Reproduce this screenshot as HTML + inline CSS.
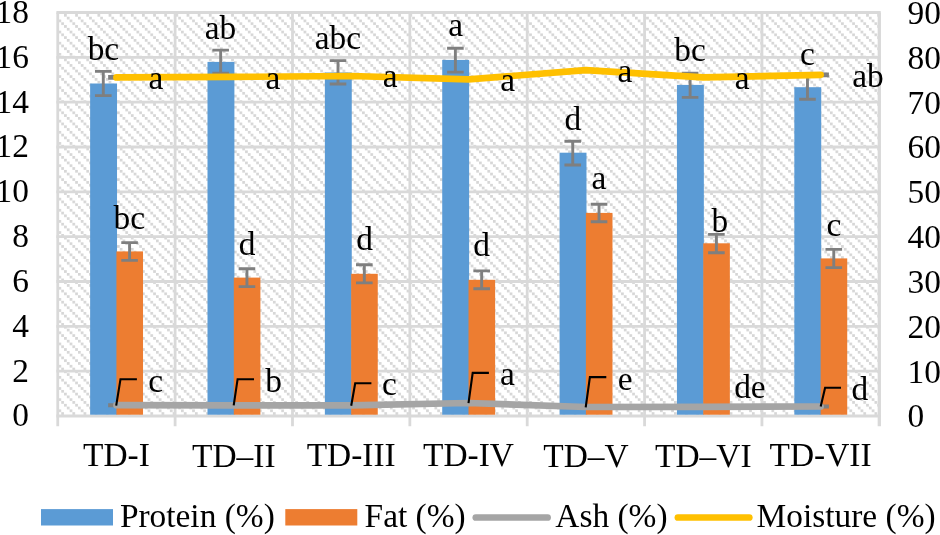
<!DOCTYPE html>
<html><head><meta charset="utf-8"><title>Chart</title>
<style>html,body{margin:0;padding:0;background:#fff;}body{width:940px;height:535px;overflow:hidden;}
svg{display:block;will-change:transform;transform:translateZ(0);}text{font-family:"Liberation Serif",serif;font-size:33.4px;fill:#000;}</style>
</head><body>
<svg width="940" height="535" viewBox="0 0 940 535">
<defs><pattern id="h" width="11.14" height="11.14" patternUnits="userSpaceOnUse" patternTransform="translate(64.05 13.95)">
<rect x="0.00" y="0.00" width="2.7" height="2.7" fill="#D6D6D6"/>
<rect x="2.79" y="2.79" width="2.7" height="2.7" fill="#D6D6D6"/>
<rect x="5.57" y="5.57" width="2.7" height="2.7" fill="#D6D6D6"/>
<rect x="8.36" y="8.36" width="2.7" height="2.7" fill="#D6D6D6"/>
</pattern></defs>
<rect x="0" y="0" width="940" height="535" fill="#fff"/>
<rect x="57.8" y="12.5" width="821.5" height="403.5" fill="url(#h)"/>
<line x1="56.4" y1="12.50" x2="880.7" y2="12.50" stroke="#D9D9D9" stroke-width="2.8"/>
<line x1="56.4" y1="57.33" x2="880.7" y2="57.33" stroke="#D9D9D9" stroke-width="2.8"/>
<line x1="56.4" y1="102.17" x2="880.7" y2="102.17" stroke="#D9D9D9" stroke-width="2.8"/>
<line x1="56.4" y1="147.00" x2="880.7" y2="147.00" stroke="#D9D9D9" stroke-width="2.8"/>
<line x1="56.4" y1="191.83" x2="880.7" y2="191.83" stroke="#D9D9D9" stroke-width="2.8"/>
<line x1="56.4" y1="236.67" x2="880.7" y2="236.67" stroke="#D9D9D9" stroke-width="2.8"/>
<line x1="56.4" y1="281.50" x2="880.7" y2="281.50" stroke="#D9D9D9" stroke-width="2.8"/>
<line x1="56.4" y1="326.33" x2="880.7" y2="326.33" stroke="#D9D9D9" stroke-width="2.8"/>
<line x1="56.4" y1="371.17" x2="880.7" y2="371.17" stroke="#D9D9D9" stroke-width="2.8"/>
<line x1="56.4" y1="416.00" x2="880.7" y2="416.00" stroke="#D9D9D9" stroke-width="2.8"/>
<line x1="57.75" y1="12.5" x2="57.75" y2="426.2" stroke="#D9D9D9" stroke-width="2.8"/>
<line x1="175.11" y1="12.5" x2="175.11" y2="426.2" stroke="#D9D9D9" stroke-width="2.8"/>
<line x1="292.48" y1="12.5" x2="292.48" y2="426.2" stroke="#D9D9D9" stroke-width="2.8"/>
<line x1="409.84" y1="12.5" x2="409.84" y2="426.2" stroke="#D9D9D9" stroke-width="2.8"/>
<line x1="527.21" y1="12.5" x2="527.21" y2="426.2" stroke="#D9D9D9" stroke-width="2.8"/>
<line x1="644.57" y1="12.5" x2="644.57" y2="426.2" stroke="#D9D9D9" stroke-width="2.8"/>
<line x1="761.94" y1="12.5" x2="761.94" y2="426.2" stroke="#D9D9D9" stroke-width="2.8"/>
<line x1="879.30" y1="12.5" x2="879.30" y2="426.2" stroke="#D9D9D9" stroke-width="3.3"/>
<rect x="90.13" y="83.5" width="26.9" height="331.2" fill="#5B9BD5"/>
<rect x="116.43" y="251.4" width="26.6" height="163.3" fill="#ED7D31"/>
<rect x="207.50" y="61.9" width="26.9" height="352.8" fill="#5B9BD5"/>
<rect x="233.80" y="277.6" width="26.6" height="137.1" fill="#ED7D31"/>
<rect x="324.86" y="72.5" width="26.9" height="342.2" fill="#5B9BD5"/>
<rect x="351.16" y="273.8" width="26.6" height="140.9" fill="#ED7D31"/>
<rect x="442.22" y="59.9" width="26.9" height="354.8" fill="#5B9BD5"/>
<rect x="468.52" y="279.8" width="26.6" height="134.9" fill="#ED7D31"/>
<rect x="559.59" y="152.7" width="26.9" height="262.0" fill="#5B9BD5"/>
<rect x="585.89" y="212.9" width="26.6" height="201.8" fill="#ED7D31"/>
<rect x="676.95" y="84.9" width="26.9" height="329.8" fill="#5B9BD5"/>
<rect x="703.25" y="243.3" width="26.6" height="171.4" fill="#ED7D31"/>
<rect x="794.32" y="87.2" width="26.9" height="327.5" fill="#5B9BD5"/>
<rect x="820.62" y="258.4" width="26.6" height="156.3" fill="#ED7D31"/>
<path d="M94.98 71.4H111.58M94.98 95.6H111.58M103.28 71.4V95.6" stroke="#7F7F7F" stroke-width="2.9" fill="none"/>
<path d="M121.28 242.6H137.88M121.28 260.4H137.88M129.58 242.6V260.4" stroke="#7F7F7F" stroke-width="2.9" fill="none"/>
<path d="M108.13 404.6H124.73M108.13 405.8H124.73M116.43 404.6V405.8" stroke="#7F7F7F" stroke-width="2.9" fill="none"/>
<path d="M108.13 76.5H124.73M108.13 78.3H124.73M116.43 76.5V78.3" stroke="#7F7F7F" stroke-width="2.9" fill="none"/>
<path d="M212.35 50.1H228.95M212.35 73.3H228.95M220.65 50.1V73.3" stroke="#7F7F7F" stroke-width="2.9" fill="none"/>
<path d="M238.65 268.7H255.25M238.65 286.6H255.25M246.95 268.7V286.6" stroke="#7F7F7F" stroke-width="2.9" fill="none"/>
<path d="M225.50 404.8H242.10M225.50 406.0H242.10M233.80 404.8V406.0" stroke="#7F7F7F" stroke-width="2.9" fill="none"/>
<path d="M225.50 76.0H242.10M225.50 77.8H242.10M233.80 76.0V77.8" stroke="#7F7F7F" stroke-width="2.9" fill="none"/>
<path d="M329.71 60.6H346.31M329.71 84.0H346.31M338.01 60.6V84.0" stroke="#7F7F7F" stroke-width="2.9" fill="none"/>
<path d="M356.01 264.8H372.61M356.01 282.9H372.61M364.31 264.8V282.9" stroke="#7F7F7F" stroke-width="2.9" fill="none"/>
<path d="M342.86 404.8H359.46M342.86 406.0H359.46M351.16 404.8V406.0" stroke="#7F7F7F" stroke-width="2.9" fill="none"/>
<path d="M342.86 75.1H359.46M342.86 76.9H359.46M351.16 75.1V76.9" stroke="#7F7F7F" stroke-width="2.9" fill="none"/>
<path d="M447.07 48.3H463.68M447.07 72.1H463.68M455.38 48.3V72.1" stroke="#7F7F7F" stroke-width="2.9" fill="none"/>
<path d="M473.37 270.9H489.97M473.37 288.8H489.97M481.67 270.9V288.8" stroke="#7F7F7F" stroke-width="2.9" fill="none"/>
<path d="M460.22 402.4H476.82M460.22 403.6H476.82M468.52 402.4V403.6" stroke="#7F7F7F" stroke-width="2.9" fill="none"/>
<path d="M460.22 78.4H476.82M460.22 80.2H476.82M468.52 78.4V80.2" stroke="#7F7F7F" stroke-width="2.9" fill="none"/>
<path d="M564.44 141.2H581.04M564.44 165.0H581.04M572.74 141.2V165.0" stroke="#7F7F7F" stroke-width="2.9" fill="none"/>
<path d="M590.74 204.2H607.34M590.74 221.8H607.34M599.04 204.2V221.8" stroke="#7F7F7F" stroke-width="2.9" fill="none"/>
<path d="M577.59 406.4H594.19M577.59 407.6H594.19M585.89 406.4V407.6" stroke="#7F7F7F" stroke-width="2.9" fill="none"/>
<path d="M577.59 69.3H594.19M577.59 71.1H594.19M585.89 69.3V71.1" stroke="#7F7F7F" stroke-width="2.9" fill="none"/>
<path d="M681.80 73.1H698.40M681.80 97.4H698.40M690.10 73.1V97.4" stroke="#7F7F7F" stroke-width="2.9" fill="none"/>
<path d="M708.10 234.4H724.70M708.10 252.8H724.70M716.40 234.4V252.8" stroke="#7F7F7F" stroke-width="2.9" fill="none"/>
<path d="M694.95 406.2H711.55M694.95 407.4H711.55M703.25 406.2V407.4" stroke="#7F7F7F" stroke-width="2.9" fill="none"/>
<path d="M694.95 76.5H711.55M694.95 78.3H711.55M703.25 76.5V78.3" stroke="#7F7F7F" stroke-width="2.9" fill="none"/>
<path d="M799.17 75.1H815.77M799.17 99.3H815.77M807.47 75.1V99.3" stroke="#7F7F7F" stroke-width="2.9" fill="none"/>
<path d="M825.47 249.4H842.07M825.47 267.6H842.07M833.77 249.4V267.6" stroke="#7F7F7F" stroke-width="2.9" fill="none"/>
<path d="M812.32 405.9H828.92M812.32 407.1H828.92M820.62 405.9V407.1" stroke="#7F7F7F" stroke-width="2.9" fill="none"/>
<path d="M812.32 73.9H828.92M812.32 75.7H828.92M820.62 73.9V75.7" stroke="#7F7F7F" stroke-width="2.9" fill="none"/>
<polyline points="116.43,405.2 233.80,405.4 351.16,405.4 468.52,403.0 585.89,407.0 703.25,406.8 820.62,406.5" fill="none" stroke="#A5A5A5" stroke-width="6.7" stroke-linecap="round" stroke-linejoin="round"/>
<polyline points="116.43,77.4 233.80,76.9 351.16,76.0 468.52,79.3 585.89,70.2 703.25,77.4 820.62,74.8" fill="none" stroke="#FFC000" stroke-width="6.7" stroke-linecap="round" stroke-linejoin="round"/>
<polyline points="116.2,405.6 120.5,379.2 136.9,379.2" fill="none" stroke="#000" stroke-width="2.1"/>
<polyline points="233.7,405.4 237.6,379.2 254.0,379.2" fill="none" stroke="#000" stroke-width="2.1"/>
<polyline points="351.2,405.8 355.2,383.3 371.4,383.3" fill="none" stroke="#000" stroke-width="2.1"/>
<polyline points="468.5,403.2 472.7,372.9 488.9,372.9" fill="none" stroke="#000" stroke-width="2.1"/>
<polyline points="585.7,407.3 589.9,377.1 606.3,377.1" fill="none" stroke="#000" stroke-width="2.1"/>
<polyline points="820.7,406.6 825.1,387.8 841.0,387.8" fill="none" stroke="#000" stroke-width="2.1"/>
<text x="103.4" y="60.4" text-anchor="middle">bc</text>
<text x="220.4" y="38.8" text-anchor="middle">ab</text>
<text x="337.8" y="48.7" text-anchor="middle">abc</text>
<text x="455.6" y="36.1" text-anchor="middle">a</text>
<text x="572.9" y="129.6" text-anchor="middle">d</text>
<text x="690.0" y="61.2" text-anchor="middle">bc</text>
<text x="807.5" y="64.6" text-anchor="middle">c</text>
<text x="129.3" y="229.3" text-anchor="middle">bc</text>
<text x="247.0" y="254.5" text-anchor="middle">d</text>
<text x="364.5" y="250.0" text-anchor="middle">d</text>
<text x="481.6" y="256.2" text-anchor="middle">d</text>
<text x="598.9" y="189.0" text-anchor="middle">a</text>
<text x="719.8" y="232.2" text-anchor="middle">b</text>
<text x="833.9" y="235.5" text-anchor="middle">c</text>
<text x="155.9" y="89.0" text-anchor="middle">a</text>
<text x="272.9" y="89.1" text-anchor="middle">a</text>
<text x="390.2" y="87.3" text-anchor="middle">a</text>
<text x="507.6" y="91.3" text-anchor="middle">a</text>
<text x="625.0" y="81.5" text-anchor="middle">a</text>
<text x="742.2" y="88.7" text-anchor="middle">a</text>
<text x="868.0" y="86.6" text-anchor="middle">ab</text>
<text x="155.6" y="391.6" text-anchor="middle">c</text>
<text x="273.6" y="392.2" text-anchor="middle">b</text>
<text x="389.5" y="395.1" text-anchor="middle">c</text>
<text x="507.3" y="385.4" text-anchor="middle">a</text>
<text x="625.1" y="390.3" text-anchor="middle">e</text>
<text x="749.9" y="397.8" text-anchor="middle">de</text>
<text x="859.9" y="399.6" text-anchor="middle">d</text>
<text x="29.0" y="22.8" text-anchor="end">18</text>
<text x="907.5" y="23.8">90</text>
<text x="29.0" y="67.6" text-anchor="end">16</text>
<text x="907.5" y="68.6">80</text>
<text x="29.0" y="112.5" text-anchor="end">14</text>
<text x="907.5" y="113.5">70</text>
<text x="29.0" y="157.3" text-anchor="end">12</text>
<text x="907.5" y="158.3">60</text>
<text x="29.0" y="202.1" text-anchor="end">10</text>
<text x="907.5" y="203.1">50</text>
<text x="29.0" y="247.0" text-anchor="end">8</text>
<text x="907.5" y="248.0">40</text>
<text x="29.0" y="291.8" text-anchor="end">6</text>
<text x="907.5" y="292.8">30</text>
<text x="29.0" y="336.6" text-anchor="end">4</text>
<text x="907.5" y="337.6">20</text>
<text x="29.0" y="381.5" text-anchor="end">2</text>
<text x="907.5" y="382.5">10</text>
<text x="29.0" y="426.3" text-anchor="end">0</text>
<text x="907.5" y="427.3">0</text>
<text x="116.4" y="465.5" text-anchor="middle">TD-I</text>
<text x="233.8" y="466.9" text-anchor="middle">TD–II</text>
<text x="351.2" y="465.5" text-anchor="middle">TD-III</text>
<text x="468.5" y="465.5" text-anchor="middle">TD-IV</text>
<text x="585.9" y="466.9" text-anchor="middle">TD–V</text>
<text x="703.3" y="466.9" text-anchor="middle">TD–VI</text>
<text x="820.6" y="465.5" text-anchor="middle">TD-VII</text>
<rect x="41" y="509.1" width="72" height="16.4" fill="#5B9BD5"/>
<text x="119.9" y="526.6">Protein (%)</text>
<rect x="285.3" y="509.1" width="72" height="16.4" fill="#ED7D31"/>
<text x="364.6" y="526.6">Fat (%)</text>
<line x1="475.8" y1="517.5" x2="547.6" y2="517.5" stroke="#A5A5A5" stroke-width="6.7" stroke-linecap="round"/>
<text x="555.3" y="526.6">Ash (%)</text>
<line x1="677.9" y1="517.5" x2="749.3" y2="517.5" stroke="#FFC000" stroke-width="6.7" stroke-linecap="round"/>
<text x="756.6" y="526.6">Moisture (%)</text>
</svg></body></html>
